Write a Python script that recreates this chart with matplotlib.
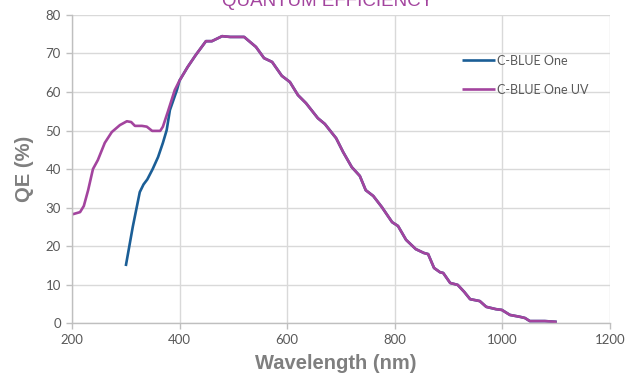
import matplotlib
matplotlib.use("Agg")
import matplotlib.pyplot as plt
import numpy as np

# C-BLUE One UV curve (purple)
uv_wl = [200, 215, 222, 230, 239, 248, 261, 274, 289, 302, 310, 317, 330, 339, 349,
         364, 369, 378, 391, 400, 415, 430, 449, 460, 479, 494, 520, 531, 542, 557,
         572, 590, 605, 620, 635, 657, 670, 683, 691, 704, 720, 735, 746, 760, 776,
         795, 806, 821, 839, 854, 862, 873, 884, 890, 903, 917, 929, 940, 958, 970,
         988, 999, 1014, 1033, 1042, 1051, 1079, 1101]
uv_qe = [28.2, 28.8, 30.4, 34.5, 40.0, 42.3, 46.8, 49.6, 51.4, 52.4, 52.2, 51.2, 51.2, 51.0, 49.9,
         49.9, 51.0, 54.8, 60.5, 63.0, 66.5, 69.6, 73.2, 73.2, 74.5, 74.3, 74.3, 73.0, 71.7, 68.8,
         67.8, 64.2, 62.6, 59.2, 57.1, 53.2, 51.7, 49.4, 48.0, 44.4, 40.5, 38.2, 34.5, 33.0, 30.1,
         26.2, 25.2, 21.6, 19.2, 18.2, 17.9, 14.3, 13.2, 13.0, 10.4, 9.9, 8.1, 6.2, 5.7, 4.2,
         3.6, 3.4, 2.1, 1.6, 1.3, 0.5, 0.5, 0.3]

# C-BLUE One curve (blue), below 400 nm; above that it runs under the UV curve
blue_wl_low = [300, 313, 326, 333, 340, 350, 360, 369, 376, 382, 395]
blue_qe_low = [14.8, 25.0, 34.0, 36.0, 37.3, 40.0, 43.1, 46.8, 50.1, 55.3, 60.5]

uv_wl = np.array(uv_wl)
uv_qe = np.array(uv_qe)
tail = uv_wl >= 400
blue_wl = np.concatenate([blue_wl_low, uv_wl[tail]])
blue_qe = np.concatenate([blue_qe_low, uv_qe[tail]])

fig = plt.figure(figsize=(6.26, 3.73), dpi=100)
ax = fig.add_axes([0.115, 0.134, 0.8594, 0.8258])

ax.plot(blue_wl, blue_qe, color="#1b5e96", lw=1.9, label="C-BLUE One", solid_capstyle="butt")
ax.plot(uv_wl, uv_qe, color="#a3449e", lw=1.9, label="C-BLUE One UV", solid_capstyle="butt")

ax.set_xlim(200, 1200)
ax.set_ylim(0, 80)
ax.set_xticks(range(200, 1201, 200))
ax.set_yticks(range(0, 81, 10))
ax.grid(True, color="#d9d9d9", lw=1.0)
ax.set_axisbelow(True)
for s in ["top", "right"]:
    ax.spines[s].set_visible(False)
for s in ["left", "bottom"]:
    ax.spines[s].set_color("#bfbfbf")
    ax.spines[s].set_linewidth(1.0)
ax.tick_params(colors="#bfbfbf", length=4, width=1.0, labelcolor="#595959",
               labelsize=9.5, pad=4)
for lab in ax.get_xticklabels() + ax.get_yticklabels():
    lab.set_family("Lato")

ax.set_xlabel("Wavelength (nm)", family="Liberation Sans", weight="bold",
              fontsize=14.5, color="#7f7f7f", labelpad=1)
ax.xaxis.set_label_coords(0.49, -0.1)
ax.xaxis.label.set_va("top")
ax.set_ylabel("QE (%)", family="Liberation Sans", weight="bold",
              fontsize=14.5, color="#7f7f7f", labelpad=8)

fig.text(0.524, 0.984, "QUANTUM EFFICIENCY", ha="center", va="baseline",
         family="Liberation Sans", fontsize=13.5, color="#a3449e")

leg = ax.legend(loc="upper left", bbox_to_anchor=(0.714, 0.891), frameon=False,
                borderpad=0, handlelength=2.6, handletextpad=0.2, labelspacing=1.35,
                prop={"family": "Lato", "size": 9})
for t in leg.get_texts():
    t.set_color("#595959")

fig.savefig("out.png", dpi=100)
